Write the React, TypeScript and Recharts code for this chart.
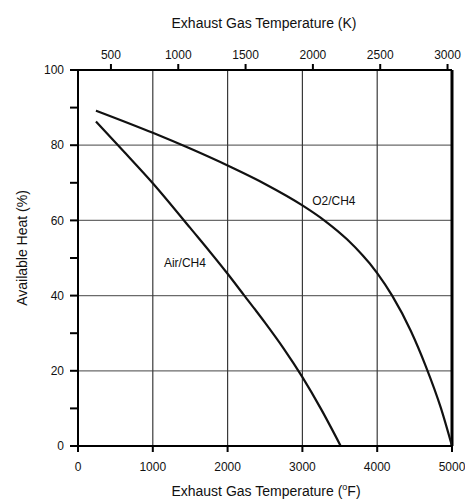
import React from 'react';
import { LineChart, Line, XAxis, YAxis, ReferenceLine, ReferenceDot } from 'recharts';

// Available heat vs exhaust gas temperature (°F)
const o2Ch4 = [
  { f: 240, heat: 89.2 },
  { f: 1000, heat: 83.3 },
  { f: 1500, heat: 79.1 },
  { f: 2000, heat: 74.6 },
  { f: 2500, heat: 69.7 },
  { f: 3000, heat: 64.0 },
  { f: 3300, heat: 59.9 },
  { f: 3600, heat: 54.9 },
  { f: 4000, heat: 46.0 },
  { f: 4200, heat: 40.0 },
  { f: 4450, heat: 30.6 },
  { f: 4650, heat: 21.2 },
  { f: 4850, heat: 10.2 },
  { f: 5000, heat: 0 },
];

const airCh4 = [
  { f: 240, heat: 86.3 },
  { f: 600, heat: 78.6 },
  { f: 1000, heat: 69.9 },
  { f: 1500, heat: 58.0 },
  { f: 2000, heat: 45.8 },
  { f: 2216, heat: 40.2 },
  { f: 2500, heat: 32.8 },
  { f: 2750, heat: 25.9 },
  { f: 3000, heat: 18.3 },
  { f: 3250, heat: 9.8 },
  { f: 3512, heat: 0 },
];

const fTicks = [0, 1000, 2000, 3000, 4000, 5000];
const kTicks = [500, 1000, 1500, 2000, 2500, 3000];
const heatTicks = [0, 10, 20, 30, 40, 50, 60, 70, 80, 90, 100];
const hGrid = [20, 40, 60, 80];
const vGrid = [1000, 2000, 3000, 4000];

const F_MIN = 0;
const F_MAX = 5000;
const toK = (f: number) => (f - 32) * 5 / 9 + 273.15;
// the kelvin scale only mirrors the °F range
const kRange = [{ k: toK(F_MIN) }, { k: toK(F_MAX) }];

const font = '"Liberation Sans", Arial, sans-serif';
const tickStyle = { fill: '#111', fontSize: 12, fontFamily: font };

const App: React.FC = () => {
  return (
    <div style={{ position: 'absolute', left: 0, top: 0, width: 465, height: 500, background: '#fff', fontFamily: font }}>
      <LineChart width={465} height={500} margin={{ top: 40, right: 13, bottom: 24, left: 18 }}>
        <XAxis
          xAxisId="f"
          type="number"
          dataKey="f"
          domain={[F_MIN, F_MAX]}
          ticks={fTicks}
          allowDataOverflow
          height={30}
          tickSize={6}
          tickMargin={10}
          tick={tickStyle}
          stroke="#000"
          strokeWidth={2}
          interval={0}
        />
        <XAxis
          xAxisId="k"
          orientation="top"
          type="number"
          dataKey="k"
          domain={[toK(F_MIN), toK(F_MAX)]}
          ticks={kTicks}
          allowDataOverflow
          height={30}
          tickSize={6}
          tickMargin={5}
          tick={tickStyle}
          stroke="#000"
          strokeWidth={2}
          interval={0}
        />
        <YAxis
          type="number"
          domain={[0, 100]}
          ticks={heatTicks}
          width={60}
          tickSize={8}
          tickMargin={6}
          tick={tickStyle}
          tickFormatter={(v: number) => (v % 20 === 0 ? String(v) : '')}
          stroke="#000"
          strokeWidth={2}
          interval={0}
        />
        {hGrid.map((y) => (
          <ReferenceLine key={`h${y}`} xAxisId="f" y={y} stroke="#6a6a6a" strokeWidth={1.2} />
        ))}
        {vGrid.map((x) => (
          <ReferenceLine key={`v${x}`} xAxisId="f" x={x} stroke="#3a3a3a" strokeWidth={1.2} />
        ))}
        <ReferenceLine xAxisId="f" x={F_MAX} stroke="#000" strokeWidth={3} />
        <Line
          xAxisId="k"
          data={kRange}
          dataKey="heat"
          stroke="none"
          dot={false}
          activeDot={false}
          isAnimationActive={false}
        />
        <Line
          xAxisId="f"
          data={o2Ch4}
          dataKey="heat"
          type="monotone"
          stroke="#111"
          strokeWidth={2.2}
          dot={false}
          isAnimationActive={false}
        />
        <Line
          xAxisId="f"
          data={airCh4}
          dataKey="heat"
          type="monotone"
          stroke="#111"
          strokeWidth={2.2}
          dot={false}
          isAnimationActive={false}
        />
        <ReferenceDot
          xAxisId="f"
          x={1430}
          y={48.7}
          r={0}
          label={{ value: 'Air/CH4', position: 'center', fill: '#111', fontSize: 12, fontFamily: font }}
        />
        <ReferenceDot
          xAxisId="f"
          x={3420}
          y={65.2}
          r={0}
          label={{ value: 'O2/CH4', position: 'center', fill: '#111', fontSize: 12, fontFamily: font }}
        />
      </LineChart>
      <div style={{ position: 'absolute', left: 0, width: 528, top: 15, textAlign: 'center', fontSize: 14, color: '#111' }}>
        Exhaust Gas Temperature (K)
      </div>
      <div style={{ position: 'absolute', left: 0, width: 532, top: 482, textAlign: 'center', fontSize: 14, color: '#111' }}>
        Exhaust Gas Temperature (<sup style={{ fontSize: 9 }}>o</sup>F)
      </div>
      <div
        style={{
          position: 'absolute',
          left: 22,
          top: 248,
          transform: 'translate(-50%, -50%) rotate(-90deg)',
          whiteSpace: 'nowrap',
          fontSize: 14,
          color: '#111',
        }}
      >
        Available Heat (%)
      </div>
    </div>
  );
};

export default App;
